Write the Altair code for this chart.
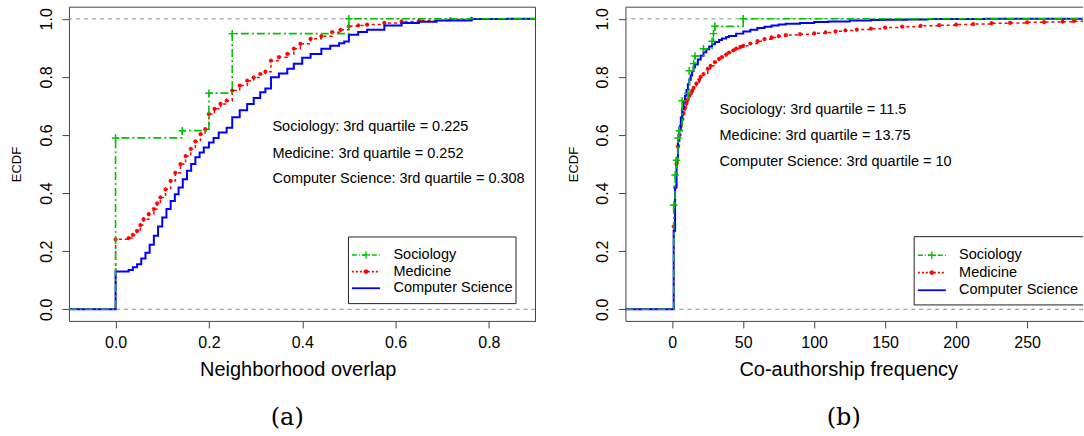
import altair as alt
import pandas as pd

FONT = "Liberation Sans"
SERIF = "DejaVu Serif"
GREEN = "#00C400"
RED = "#FF0000"
BLUE = "#0000FF"
AXIS_COL = "#444444"
REF_COL = "#8c8c8c"

series_names = ["Sociology", "Medicine", "Computer Science"]
y_ticks = [0.0, 0.2, 0.4, 0.6, 0.8, 1.0]
ref_lines = [0.0, 1.0]

# ---------------- Panel (a): Neighborhood overlap ----------------
a_xticks = [0.0, 0.2, 0.4, 0.6, 0.8]
a_soc_x = [0.0, 0.143, 0.2, 0.25, 0.5]
a_soc_y = [0.590, 0.615, 0.744, 0.949, 1.0]
a_med_x = [0.0, 0.028, 0.037, 0.046, 0.053, 0.060, 0.071, 0.082, 0.089, 0.096,
           0.107, 0.118, 0.128, 0.139, 0.150, 0.161, 0.171, 0.182, 0.192, 0.200,
           0.212, 0.225, 0.238, 0.250, 0.266, 0.282, 0.296, 0.310, 0.321, 0.333,
           0.350, 0.368, 0.382, 0.396, 0.418, 0.441, 0.464, 0.482, 0.500, 0.520,
           0.539, 0.576, 0.613, 0.651, 0.718, 0.763]
a_med_y = [0.241, 0.245, 0.256, 0.270, 0.290, 0.310, 0.328, 0.345, 0.365, 0.385,
           0.413, 0.442, 0.470, 0.500, 0.527, 0.552, 0.578, 0.603, 0.620, 0.672,
           0.690, 0.707, 0.718, 0.753, 0.770, 0.787, 0.798, 0.810, 0.818, 0.856,
           0.868, 0.879, 0.897, 0.914, 0.931, 0.940, 0.954, 0.962, 0.974, 0.977,
           0.980, 0.986, 0.991, 0.994, 0.998, 1.0]
a_cs_x = [0.0, 0.028, 0.037, 0.046, 0.055, 0.064, 0.073, 0.082, 0.091, 0.100,
          0.109, 0.118, 0.127, 0.135, 0.144, 0.153, 0.162, 0.171, 0.180, 0.189,
          0.200, 0.210, 0.221, 0.238, 0.250, 0.266, 0.282, 0.296, 0.310, 0.321,
          0.333, 0.350, 0.368, 0.382, 0.400, 0.418, 0.441, 0.460, 0.479, 0.490,
          0.500, 0.520, 0.539, 0.576, 0.613, 0.650, 0.688, 0.763, 0.838]
a_cs_y = [0.130, 0.135, 0.145, 0.155, 0.175, 0.195, 0.222, 0.253, 0.285, 0.316,
          0.345, 0.373, 0.396, 0.419, 0.448, 0.477, 0.500, 0.523, 0.540, 0.557,
          0.574, 0.590, 0.609, 0.625, 0.661, 0.685, 0.707, 0.727, 0.747, 0.760,
          0.799, 0.812, 0.828, 0.845, 0.866, 0.879, 0.897, 0.907, 0.916, 0.922,
          0.945, 0.955, 0.962, 0.977, 0.986, 0.990, 0.994, 0.999, 1.0]
a_labels = ["Sociology: 3rd quartile = 0.225",
            "Medicine: 3rd quartile = 0.252",
            "Computer Science: 3rd quartile = 0.308"]

# ---------------- Panel (b): Co-authorship frequency ----------------
b_xticks = [0, 50, 100, 150, 200, 250]
b_soc_x = [1, 2, 3, 4, 5, 7, 11, 12, 15, 16, 22, 28, 29, 30, 50]
b_soc_y = [0.359, 0.462, 0.513, 0.590, 0.615, 0.718, 0.744, 0.821, 0.846,
           0.872, 0.897, 0.923, 0.949, 0.974, 1.0]
b_med_x = [1, 2, 3, 4, 5, 6, 7, 8, 9, 10, 11, 12, 13, 14, 15, 17, 19, 20, 22,
           25, 27, 30, 33, 35, 38, 40, 43, 45, 48, 50, 55, 60, 65, 70, 75, 80,
           90, 100, 108, 115, 122, 130, 140, 150, 162, 175, 188, 200, 212, 225,
           238, 250, 262, 275, 283]
b_med_y = [0.285, 0.42, 0.50, 0.56, 0.60, 0.63, 0.655, 0.675, 0.693, 0.71,
           0.722, 0.735, 0.743, 0.752, 0.762, 0.777, 0.79, 0.80, 0.81, 0.828,
           0.838, 0.851, 0.862, 0.868, 0.877, 0.884, 0.891, 0.897, 0.903, 0.907,
           0.915, 0.923, 0.93, 0.936, 0.94, 0.944, 0.947, 0.95, 0.953, 0.957,
           0.96, 0.963, 0.966, 0.97, 0.973, 0.976, 0.978, 0.98, 0.982, 0.985,
           0.986, 0.988, 0.989, 0.99, 0.992]
b_cs_x = [1, 2, 3, 4, 5, 6, 7, 8, 9, 10, 11, 12, 13, 14, 15, 16, 18, 20, 22,
          24, 26, 28, 30, 33, 35, 38, 40, 45, 50, 55, 60, 65, 70, 75, 80, 90,
          100, 110, 125, 140, 150, 165, 180, 220]
b_cs_y = [0.27, 0.42, 0.52, 0.58, 0.625, 0.66, 0.69, 0.715, 0.735, 0.755,
          0.775, 0.79, 0.805, 0.82, 0.832, 0.843, 0.86, 0.873, 0.885, 0.895,
          0.905, 0.912, 0.92, 0.927, 0.932, 0.937, 0.941, 0.949, 0.956, 0.962,
          0.968, 0.973, 0.977, 0.98, 0.983, 0.986, 0.989, 0.991, 0.994, 0.996,
          0.997, 0.998, 0.999, 1.0]
b_labels = ["Sociology: 3rd quartile = 11.5",
            "Medicine: 3rd quartile = 13.75",
            "Computer Science: 3rd quartile = 10"]

for xs, ys in [(a_soc_x, a_soc_y), (a_med_x, a_med_y), (a_cs_x, a_cs_y),
               (b_soc_x, b_soc_y), (b_med_x, b_med_y), (b_cs_x, b_cs_y)]:
    assert len(xs) == len(ys)

PLUS = "M-1,0L1,0M0,-1L0,1"
STAR = "M-1,0L1,0M0,-1L0,1M-0.7,-0.7L0.7,0.7M-0.7,0.7L0.7,-0.7"
H = 314
Y_DOMAIN = [-0.04, 1.04]


def ecdf_df(xs, ys, xmin, xmax):
    return pd.DataFrame({"x": [xmin] + list(xs) + [xmax],
                         "y": [0.0] + list(ys) + [ys[-1]]})


def one(label):
    return pd.DataFrame({"label": [label]})


def panel(W, xdom, xticks, xfmt, xtitle, title_x, soc, med, cs, labels,
          ann_x, ann_y, leg, caption, right_border):
    X = alt.X("x:Q", scale=alt.Scale(domain=xdom, nice=False, zero=False),
              axis=alt.Axis(values=xticks, format=xfmt, title=xtitle,
                            titleX=title_x, titleY=55, titleAlign="center",
                            titleBaseline="alphabetic", titleFont=FONT,
                            titleFontSize=20, titleFontWeight="normal",
                            titleColor="black", labelFont=FONT,
                            labelFontSize=16, labelColor="black",
                            labelPadding=7, tickSize=7, tickColor=AXIS_COL,
                            domain=True, domainColor=AXIS_COL, grid=False,
                            labelFlush=False, labelOverlap=False))
    Y = alt.Y("y:Q", scale=alt.Scale(domain=Y_DOMAIN, nice=False, zero=False),
              axis=alt.Axis(values=y_ticks, format=".1f", title="ECDF",
                            titleX=-52, titleY=H / 2, titleAngle=270,
                            titleAlign="center", titleBaseline="middle",
                            titleFont=FONT, titleFontSize=13,
                            titleFontWeight="normal", titleColor="black",
                            labelAngle=270, labelAlign="center",
                            labelBaseline="bottom", labelPadding=7.5,
                            labelFont=FONT, labelFontSize=16,
                            labelColor="black", tickSize=7,
                            tickColor=AXIS_COL, domain=True,
                            domainColor=AXIS_COL, grid=False,
                            labelFlush=False, labelOverlap=False))

    layers = []
    layers.append(alt.Chart(pd.DataFrame({"y": ref_lines})).mark_rule(
        color=REF_COL, strokeDash=[4, 4], strokeWidth=1).encode(y=Y))

    med_df = ecdf_df(med[0], med[1], xdom[0], xdom[1])
    cs_df = ecdf_df(cs[0], cs[1], xdom[0], xdom[1])
    soc_df = ecdf_df(soc[0], soc[1], xdom[0], xdom[1])

    layers.append(alt.Chart(med_df).mark_line(
        interpolate="step-after", color=RED, strokeWidth=1.5,
        strokeDash=[3, 3], clip=True).encode(x=X, y=Y))
    layers.append(alt.Chart(pd.DataFrame({"x": med[0], "y": med[1]})).mark_point(
        shape=STAR, filled=False, color=RED, size=18, strokeWidth=1.1,
        opacity=1, clip=True).encode(x=X, y=Y))
    layers.append(alt.Chart(cs_df).mark_line(
        interpolate="step-after", color=BLUE, strokeWidth=2,
        clip=True).encode(x=X, y=Y))
    layers.append(alt.Chart(soc_df).mark_line(
        interpolate="step-after", color=GREEN, strokeWidth=1.6,
        strokeDash=[8, 3, 2, 3], clip=True).encode(x=X, y=Y))
    layers.append(alt.Chart(pd.DataFrame({"x": soc[0], "y": soc[1]})).mark_point(
        shape=PLUS, filled=False, color=GREEN, size=56, strokeWidth=1.5,
        opacity=1, clip=True).encode(x=X, y=Y))

    # frame: top (and right for full box)
    layers.append(alt.Chart(one("t")).mark_rule(color=AXIS_COL, strokeWidth=1).encode(
        x=alt.value(0), x2=alt.value(W), y=alt.value(0)))
    if right_border:
        layers.append(alt.Chart(one("r")).mark_rule(color=AXIS_COL, strokeWidth=1).encode(
            x=alt.value(W), y=alt.value(0), y2=alt.value(H)))

    # annotations
    for lab, yy in zip(labels, ann_y):
        layers.append(alt.Chart(one(lab)).mark_text(
            align="left", baseline="middle", font=FONT, fontSize=14.5,
            color="black").encode(x=alt.value(ann_x), y=alt.value(yy),
                                  text="label:N"))

    # legend
    bx0, bx1, by0, by1, lx0, lx1, tx, rows, open_right = leg
    if open_right:
        layers.append(alt.Chart(one("l")).mark_rule(color="#222222", strokeWidth=1).encode(
            x=alt.value(bx0), y=alt.value(by0), y2=alt.value(by1)))
        for yy in (by0, by1):
            layers.append(alt.Chart(one("h")).mark_rule(color="#222222", strokeWidth=1).encode(
                x=alt.value(bx0), x2=alt.value(bx1), y=alt.value(yy)))
    else:
        layers.append(alt.Chart(one("box")).mark_rect(
            filled=False, stroke="#222222", strokeWidth=1).encode(
            x=alt.value(bx0), x2=alt.value(bx1), y=alt.value(by0), y2=alt.value(by1)))
    styles = [(GREEN, [5, 2, 1, 2], PLUS, 56), (RED, [2, 2], STAR, 22), (BLUE, None, None, 0)]
    for name, yy, (col, dash, shp, sz) in zip(series_names, rows, styles):
        rk = dict(color=col, strokeWidth=1.8 if dash is None else 1.6)
        if dash is not None:
            rk["strokeDash"] = dash
        layers.append(alt.Chart(one(name)).mark_rule(**rk).encode(
            x=alt.value(lx0), x2=alt.value(lx1), y=alt.value(yy)))
        if shp is not None:
            layers.append(alt.Chart(one(name)).mark_point(
                shape=shp, filled=False, color=col, size=sz, strokeWidth=1.3,
                opacity=1).encode(x=alt.value((lx0 + lx1) / 2), y=alt.value(yy)))
        layers.append(alt.Chart(one(name)).mark_text(
            align="left", baseline="middle", font=FONT, fontSize=14.5,
            color="black").encode(x=alt.value(tx), y=alt.value(yy), text="label:N"))

    # caption
    layers.append(alt.Chart(one(caption)).mark_text(
        align="center", baseline="alphabetic", font=SERIF, fontSize=24,
        color="black").encode(x=alt.value(218.5), y=alt.value(418), text="label:N"))

    return alt.layer(*layers).properties(
        width=W, height=H, view=alt.ViewBackground(stroke="transparent"))


W1, W2 = 467, 458
left = panel(W1, [-0.1, 0.9], a_xticks, ".1f", "Neighborhood overlap", 229,
             (a_soc_x, a_soc_y), (a_med_x, a_med_y), (a_cs_x, a_cs_y),
             a_labels, 203.7, [120, 146.7, 172.3],
             (279.8, 447.5, 230, 296.7, 283.2, 311.5, 324.8, [248, 264.7, 281.3], False),
             "(a)", True)
right = panel(W2, [-33, 289.4], b_xticks, "d", "Co-authorship frequency", 223,
              (b_soc_x, b_soc_y), (b_med_x, b_med_y), (b_cs_x, b_cs_y),
              b_labels, 94.2, [103, 128.7, 155.3],
              (289, W2, 229.7, 298, 292.7, 320.7, 334, [248.3, 265.7, 283.3], True),
              "(b)", False)

chart = alt.hconcat(left, right, spacing=90, bounds="flush").properties(
    padding={"left": 10, "top": 6, "right": 0, "bottom": 0}
).configure_view(stroke="transparent").configure(background="white")

chart.save("out.html", embed_options={"renderer": "svg", "actions": False})
